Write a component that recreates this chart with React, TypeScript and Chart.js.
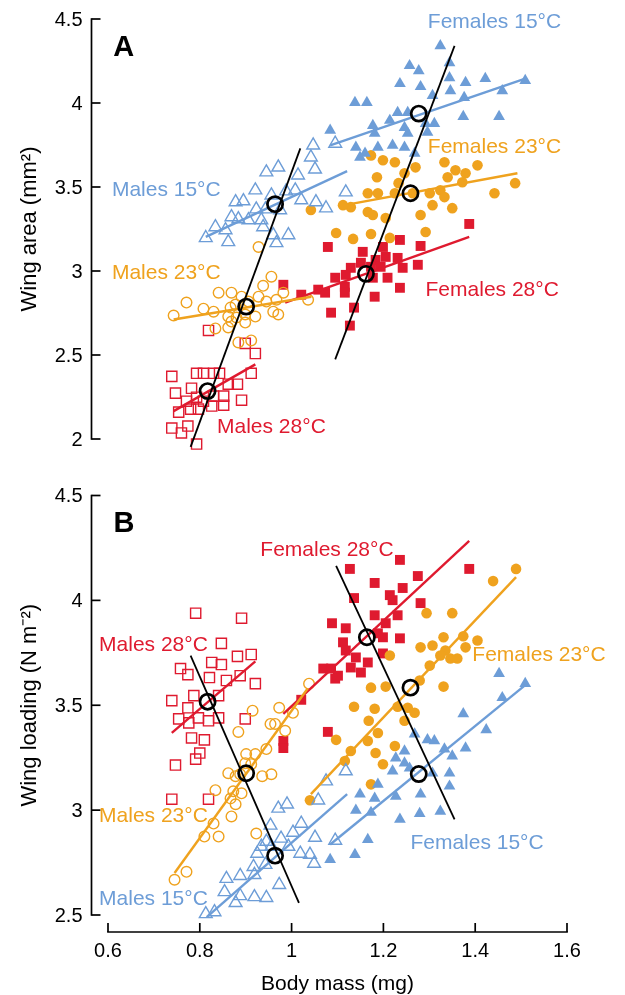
import React, { useEffect, useRef } from "react";
import { Chart, registerables } from "chart.js";
Chart.register(...registerables);

type P = [number, number];

// ---------- colours ----------
const BLUE = "#6d9dd7";
const ORANGE = "#efa21e";
const RED = "#df1a2f";

// ---------- axes ----------
const xTicks = [0.6, 0.8, 1.0, 1.2, 1.4, 1.6];
const xTickLabels = ["0.6", "0.8", "1", "1.2", "1.4", "1.6"];
const yTicksA = [2, 2.5, 3, 3.5, 4, 4.5];
const yTickLabelsA = ["2", "2.5", "3", "3.5", "4", "4.5"];
const yTicksB = [2.5, 3, 3.5, 4, 4.5];
const yTickLabelsB = ["2.5", "3", "3.5", "4", "4.5"];
const xTitle = "Body mass (mg)";
const yTitleA = "Wing area (mm²)";
const yTitleB = "Wing loading (N m⁻²)";

// ---------- panel A: wing area ----------
const areaM15: P[] = [[1.047,3.748],[1.042,3.677],[1.095,3.759],[0.971,3.617],[0.945,3.588],[1.014,3.570],[1.051,3.605],[0.921,3.481],[0.878,3.410],[0.895,3.416],[0.956,3.451],[0.988,3.475],[1.008,3.481],[1.021,3.422],[1.053,3.410],[1.118,3.469],[1.075,3.374],[0.923,3.368],[0.943,3.368],[0.869,3.321],[0.884,3.309],[0.906,3.303],[0.934,3.303],[0.975,3.363],[0.834,3.262],[0.856,3.244],[0.938,3.262],[0.813,3.197],[0.862,3.173],[0.960,3.214],[0.993,3.214],[0.967,3.167]];
const areaM23: P[] = [[0.928,3.143],[0.956,2.966],[0.938,2.912],[0.841,2.871],[0.869,2.871],[0.891,2.847],[0.928,2.847],[0.771,2.812],[0.808,2.776],[0.830,2.758],[0.867,2.782],[0.878,2.800],[0.906,2.818],[0.945,2.818],[0.967,2.829],[0.982,2.871],[1.036,2.829],[0.743,2.735],[0.862,2.729],[0.880,2.723],[0.899,2.741],[0.921,2.729],[0.960,2.758],[0.971,2.741],[0.869,2.699],[0.899,2.693],[0.834,2.658],[0.862,2.664],[0.884,2.575],[0.912,2.587]];
const areaM28: P[] = [[0.819,2.646],[0.899,2.569],[0.921,2.509],[0.739,2.373],[0.793,2.391],[0.808,2.391],[0.830,2.391],[0.843,2.391],[0.912,2.391],[0.782,2.302],[0.862,2.326],[0.882,2.326],[0.747,2.273],[0.793,2.249],[0.830,2.255],[0.852,2.255],[0.771,2.225],[0.808,2.225],[0.826,2.196],[0.852,2.201],[0.891,2.231],[0.754,2.160],[0.780,2.178],[0.797,2.178],[0.739,2.065],[0.774,2.077],[0.760,2.036],[0.793,1.970]];
const areaF15: P[] = [[1.324,4.340],[1.257,4.222],[1.277,4.192],[1.344,4.239],[1.236,4.115],[1.281,4.097],[1.344,4.150],[1.379,4.121],[1.422,4.145],[1.459,4.073],[1.509,4.133],[1.307,4.044],[1.346,4.073],[1.376,4.032],[1.138,4.002],[1.164,4.002],[1.231,3.943],[1.214,3.896],[1.253,3.943],[1.374,3.919],[1.452,3.919],[1.177,3.866],[1.181,3.819],[1.246,3.854],[1.253,3.819],[1.292,3.878],[1.311,3.878],[1.084,3.837],[1.140,3.736],[1.188,3.736],[1.220,3.748],[1.246,3.736],[1.268,3.700],[1.149,3.677],[1.160,3.700],[1.296,3.825]];
const areaF23: P[] = [[1.173,3.688],[1.199,3.659],[1.225,3.647],[1.333,3.647],[1.405,3.629],[1.186,3.558],[1.246,3.582],[1.270,3.617],[1.357,3.600],[1.379,3.582],[1.340,3.558],[1.233,3.523],[1.166,3.463],[1.188,3.463],[1.225,3.463],[1.301,3.463],[1.324,3.481],[1.333,3.440],[1.442,3.463],[1.487,3.523],[1.372,3.528],[1.129,3.380],[1.042,3.363],[1.112,3.392],[1.166,3.351],[1.177,3.333],[1.205,3.315],[1.281,3.333],[1.307,3.392],[1.350,3.374],[1.097,3.226],[1.134,3.191],[1.173,3.220],[1.214,3.197],[1.292,3.232],[1.264,3.463]];
const areaF28: P[] = [[1.387,3.280],[1.236,3.185],[1.281,3.149],[1.079,3.143],[1.155,3.114],[1.199,3.143],[1.183,3.066],[1.205,3.084],[1.231,3.078],[1.129,3.019],[1.151,3.049],[1.173,3.025],[1.194,3.025],[1.242,3.019],[1.275,3.037],[1.095,2.960],[1.118,2.977],[1.177,2.960],[1.209,2.960],[1.058,2.889],[1.116,2.906],[1.073,2.871],[1.236,2.900],[1.116,2.871],[1.181,2.847],[1.086,2.752],[1.136,2.782],[1.127,2.675],[0.982,2.918],[1.021,2.859]];

const areaFitM15: P[] = [[0.813,3.203],[1.121,3.594]];
const areaFitM23: P[] = [[0.743,2.711],[1.043,2.847]];
const areaFitM28: P[] = [[0.743,2.166],[0.921,2.444]];
const areaFitF15: P[] = [[1.084,3.748],[1.509,4.145]];
const areaFitF23: P[] = [[1.127,3.398],[1.492,3.582]];
const areaFitF28: P[] = [[0.986,2.812],[1.387,3.203]];
const areaMaleMeans: P[] = [[0.817,2.285],[0.901,2.788],[0.964,3.398]];
const areaFemaleMeans: P[] = [[1.162,2.983],[1.259,3.463],[1.277,3.937]];
const areaMaleTrend: P[] = [[0.780,1.953],[1.019,3.730]];
const areaFemaleTrend: P[] = [[1.095,2.474],[1.355,4.340]];

// ---------- panel B: wing loading ----------
const loadM15: P[] = [[1.118,3.186],[1.075,3.138],[1.058,3.047],[0.990,3.028],[0.971,3.008],[0.954,2.927],[1.021,2.936],[1.003,2.893],[1.051,2.869],[1.095,2.855],[0.945,2.850],[0.977,2.865],[0.934,2.826],[0.956,2.826],[0.993,2.826],[1.019,2.793],[1.040,2.788],[1.049,2.745],[0.925,2.793],[0.917,2.730],[0.943,2.740],[0.858,2.673],[0.888,2.687],[0.919,2.692],[0.973,2.644],[0.854,2.610],[0.888,2.591],[0.919,2.586],[0.945,2.582],[0.878,2.558],[0.832,2.514],[0.813,2.505]];
const loadM23: P[] = [[1.038,3.603],[0.915,3.474],[0.973,3.488],[1.003,3.464],[0.954,3.411],[0.964,3.411],[0.986,3.378],[0.884,3.373],[0.945,3.291],[0.901,3.267],[0.921,3.267],[0.899,3.224],[0.912,3.219],[0.862,3.176],[0.878,3.162],[0.888,3.171],[0.936,3.162],[0.956,3.171],[0.834,3.095],[0.873,3.090],[0.891,3.080],[0.867,3.056],[0.878,3.028],[0.869,2.970],[0.830,2.936],[0.810,2.874],[0.841,2.874],[0.923,2.888],[0.771,2.706],[0.745,2.668]];
const loadM28: P[] = [[0.791,3.939],[0.891,3.915],[0.847,3.795],[0.882,3.733],[0.912,3.742],[0.758,3.675],[0.774,3.646],[0.826,3.704],[0.847,3.694],[0.821,3.632],[0.858,3.618],[0.888,3.641],[0.921,3.603],[0.739,3.522],[0.787,3.546],[0.841,3.546],[0.774,3.488],[0.754,3.435],[0.776,3.416],[0.797,3.440],[0.819,3.426],[0.841,3.440],[0.899,3.435],[0.782,3.344],[0.810,3.335],[0.800,3.272],[0.791,3.243],[0.747,3.215],[0.739,3.052],[0.819,3.052]];
const loadF15: P[] = [[1.452,3.651],[1.509,3.603],[1.374,3.459],[1.459,3.536],[1.424,3.383],[1.379,3.296],[1.268,3.363],[1.296,3.335],[1.311,3.330],[1.333,3.291],[1.350,3.258],[1.246,3.282],[1.227,3.248],[1.246,3.224],[1.257,3.200],[1.220,3.186],[1.307,3.176],[1.344,3.176],[1.344,3.114],[1.188,3.123],[1.149,3.076],[1.181,3.056],[1.227,3.066],[1.281,3.076],[1.140,2.999],[1.173,2.989],[1.236,2.956],[1.279,2.984],[1.324,2.994],[1.166,2.860],[1.138,2.788],[1.084,2.764]];
const loadF23: P[] = [[1.489,4.150],[1.439,4.092],[1.294,3.939],[1.350,3.939],[1.331,3.824],[1.374,3.829],[1.405,3.809],[1.281,3.776],[1.307,3.785],[1.335,3.761],[1.379,3.776],[1.324,3.737],[1.346,3.723],[1.361,3.723],[1.214,3.737],[1.301,3.689],[1.173,3.584],[1.205,3.589],[1.279,3.618],[1.331,3.589],[1.136,3.493],[1.181,3.483],[1.231,3.493],[1.253,3.488],[1.268,3.464],[1.168,3.426],[1.246,3.426],[1.097,3.335],[1.188,3.368],[1.166,3.330],[1.129,3.282],[1.116,3.234],[1.183,3.272],[1.225,3.306],[1.199,3.219],[1.173,3.123],[1.040,3.047]];
const loadF28: P[] = [[1.236,4.193],[1.127,4.150],[1.387,4.150],[1.181,4.083],[1.275,4.116],[1.242,4.059],[1.136,4.011],[1.214,4.025],[1.220,4.001],[1.281,3.987],[1.181,3.929],[1.231,3.929],[1.088,3.891],[1.118,3.867],[1.205,3.891],[1.188,3.843],[1.199,3.824],[1.236,3.819],[1.112,3.800],[1.118,3.761],[1.140,3.728],[1.166,3.704],[1.199,3.747],[1.069,3.675],[1.086,3.675],[1.129,3.680],[1.151,3.656],[1.101,3.641],[1.095,3.627],[1.021,3.526],[1.079,3.373],[0.982,3.330],[0.982,3.296]];

const loadFitM15: P[] = [[0.815,2.490],[1.121,3.076]];
const loadFitM23: P[] = [[0.745,2.700],[1.035,3.580]];
const loadFitM28: P[] = [[0.739,3.368],[0.921,3.709]];
const loadFitF15: P[] = [[1.084,2.836],[1.513,3.603]];
const loadFitF23: P[] = [[1.042,3.076],[1.489,4.111]];
const loadFitF28: P[] = [[0.982,3.459],[1.387,4.284]];
const loadMaleMeans: P[] = [[0.817,3.517],[0.901,3.176],[0.964,2.783]];
const loadFemaleMeans: P[] = [[1.164,3.824],[1.259,3.584],[1.277,3.172]];
const loadMaleTrend: P[] = [[0.780,3.737],[1.016,2.558]];
const loadFemaleTrend: P[] = [[1.097,4.164],[1.355,2.956]];

// ---------- text labels ----------
const groupNames = ["Males 15°C", "Males 23°C", "Males 28°C", "Females 15°C", "Females 23°C", "Females 28°C"];
const panelLetters = ["A", "B"];

// label anchor positions (data units), kept apart from the data above
const labelPosA: P[] = [[0.727,3.481],[0.727,2.989],[0.956,2.071],[1.442,4.482],[1.442,3.736],[1.437,2.883]];
const labelPosB: P[] = [[0.699,2.577],[0.699,2.970],[0.699,3.785],[1.404,2.843],[1.539,3.737],[1.077,4.241]];
const letterPos: P[] = [[0.634,4.33],[0.635,4.366]];

// ---------- layout (pixels) ----------
const W = 625, H = 995;
const AREA_TOP = 18, AREA_BOTTOM = 932, AREA_LEFT = 108, AREA_RIGHT = 567;
const PANEL_A = { vTop: 4.5, vBot: 2.0, pTop: 19, pBot: 439 };
const PANEL_B = { vTop: 4.5, vBot: 2.5, pTop: 495.5, pBot: 915 };
const FONT = '"Liberation Sans", Arial, Helvetica, sans-serif';

function yRange(p: { vTop: number; vBot: number; pTop: number; pBot: number }) {
  const per = (p.vTop - p.vBot) / (p.pBot - p.pTop);
  return { max: p.vTop + (p.pTop - AREA_TOP) * per, min: p.vBot - (AREA_BOTTOM - p.pBot) * per };
}

const COLORS = [BLUE, ORANGE, RED, BLUE, ORANGE, RED];
const STYLES = ["triangle", "circle", "rect", "triangle", "circle", "rect"];

function pointsDs(data: P[], axis: string, idx: number) {
  const filled = idx >= 3;
  const style = STYLES[idx];
  let r = 5.3;
  if (style === "triangle") r = filled ? 6.8 : 7.4;
  if (style === "rect") r = filled ? 7.0 : 7.2;
  return {
    type: "scatter" as const,
    data: data.map(([x, y]) => ({ x, y })),
    yAxisID: axis,
    pointStyle: style,
    pointRadius: r,
    backgroundColor: filled ? COLORS[idx] : "rgba(0,0,0,0)",
    borderColor: COLORS[idx],
    borderWidth: filled ? 0 : 1.4,
    showLine: false,
    order: 3,
  };
}

function lineDs(data: P[], axis: string, color: string, width: number, order: number) {
  return {
    type: "scatter" as const,
    data: data.map(([x, y]) => ({ x, y })),
    yAxisID: axis,
    showLine: true,
    borderColor: color,
    borderWidth: width,
    pointRadius: 0,
    fill: false,
    order,
  };
}

function meansDs(data: P[], axis: string) {
  return {
    type: "scatter" as const,
    data: data.map(([x, y]) => ({ x, y })),
    yAxisID: axis,
    pointStyle: "circle",
    pointRadius: 7.6,
    backgroundColor: "rgba(0,0,0,0)",
    borderColor: "#000",
    borderWidth: 2.7,
    order: 0,
  };
}

const areaPts = [areaM15, areaM23, areaM28, areaF15, areaF23, areaF28];
const areaFits = [areaFitM15, areaFitM23, areaFitM28, areaFitF15, areaFitF23, areaFitF28];
const loadPts = [loadM15, loadM23, loadM28, loadF15, loadF23, loadF28];
const loadFits = [loadFitM15, loadFitM23, loadFitM28, loadFitF15, loadFitF23, loadFitF28];

const axesPlugin = {
  id: "customAxes",
  afterDatasetsDraw(chart: any) {
    const ctx: CanvasRenderingContext2D = chart.ctx;
    const xs = chart.scales.x;
    const ys = [chart.scales.yA, chart.scales.yB];
    const ticks = [yTicksA, yTicksB];
    const tickLabels = [yTickLabelsA, yTickLabelsB];
    const titles = [yTitleA, yTitleB];
    const labelPos = [labelPosA, labelPosB];
    const axisX = xs.getPixelForValue(xTicks[0]) - 16.5;
    ctx.save();
    ctx.strokeStyle = "#000";
    ctx.fillStyle = "#000";
    ctx.lineWidth = 1.7;
    ctx.lineCap = "butt";

    for (let p = 0; p < 2; p++) {
      const y = ys[p];
      const t = ticks[p];
      const top = y.getPixelForValue(t[t.length - 1]);
      const bot = y.getPixelForValue(t[0]);
      ctx.beginPath();
      ctx.moveTo(axisX, top - 0.85);
      ctx.lineTo(axisX, bot + 0.85);
      ctx.stroke();
      ctx.font = `20px ${FONT}`;
      ctx.textAlign = "right";
      ctx.textBaseline = "middle";
      t.forEach((v, i) => {
        const py = y.getPixelForValue(v);
        ctx.beginPath();
        ctx.moveTo(axisX, py);
        ctx.lineTo(axisX + 9, py);
        ctx.stroke();
        ctx.fillText(tickLabels[p][i], axisX - 9, py + 1);
      });
      // axis title
      ctx.save();
      ctx.translate(30, (top + bot) / 2);
      ctx.rotate(-Math.PI / 2);
      ctx.textAlign = "center";
      ctx.textBaseline = "middle";
      ctx.font = `22px ${FONT}`;
      ctx.fillText(titles[p], 0, 0);
      ctx.restore();

      // group labels
      ctx.font = `21px ${FONT}`;
      ctx.textAlign = "center";
      ctx.textBaseline = "middle";
      groupNames.forEach((name, i) => {
        const [lx, ly] = labelPos[p][i];
        ctx.fillStyle = COLORS[i];
        ctx.fillText(name, xs.getPixelForValue(lx), y.getPixelForValue(ly));
      });
      // panel letter
      ctx.fillStyle = "#000";
      ctx.font = `bold 29px ${FONT}`;
      ctx.fillText(panelLetters[p], xs.getPixelForValue(letterPos[p][0]), y.getPixelForValue(letterPos[p][1]));
    }

    // x axis
    const axY = AREA_BOTTOM;
    const x0 = xs.getPixelForValue(xTicks[0]);
    const x1 = xs.getPixelForValue(xTicks[xTicks.length - 1]);
    ctx.lineWidth = 1.7;
    ctx.beginPath();
    ctx.moveTo(x0 - 0.85, axY);
    ctx.lineTo(x1 + 0.85, axY);
    ctx.stroke();
    ctx.font = `20px ${FONT}`;
    ctx.textAlign = "center";
    ctx.textBaseline = "middle";
    xTicks.forEach((v, i) => {
      const px = xs.getPixelForValue(v);
      ctx.beginPath();
      ctx.moveTo(px, axY);
      ctx.lineTo(px, axY - 9);
      ctx.stroke();
      ctx.fillText(xTickLabels[i], px, axY + 19);
    });
    ctx.font = `21px ${FONT}`;
    ctx.fillText(xTitle, (x0 + x1) / 2, axY + 52);
    ctx.restore();
  },
};

export default function App() {
  const ref = useRef<HTMLCanvasElement>(null);
  useEffect(() => {
    const datasets: any[] = [];
    // black trend lines & means
    datasets.push(meansDs(areaMaleMeans, "yA"), meansDs(areaFemaleMeans, "yA"));
    datasets.push(meansDs(loadMaleMeans, "yB"), meansDs(loadFemaleMeans, "yB"));
    datasets.push(lineDs(areaMaleTrend, "yA", "#000", 1.8, 1), lineDs(areaFemaleTrend, "yA", "#000", 1.8, 1));
    datasets.push(lineDs(loadMaleTrend, "yB", "#000", 1.8, 1), lineDs(loadFemaleTrend, "yB", "#000", 1.8, 1));
    areaFits.forEach((f, i) => datasets.push(lineDs(f, "yA", COLORS[i], 2.4, 2)));
    loadFits.forEach((f, i) => datasets.push(lineDs(f, "yB", COLORS[i], 2.4, 2)));
    areaPts.forEach((d, i) => datasets.push(pointsDs(d, "yA", i)));
    loadPts.forEach((d, i) => datasets.push(pointsDs(d, "yB", i)));

    const ra = yRange(PANEL_A);
    const rb = yRange(PANEL_B);
    const chart = new Chart(ref.current as HTMLCanvasElement, {
      type: "scatter",
      data: { datasets },
      options: {
        responsive: false,
        maintainAspectRatio: false,
        devicePixelRatio: 1,
        animation: false,
        layout: { padding: { left: AREA_LEFT, right: W - AREA_RIGHT, top: AREA_TOP, bottom: H - AREA_BOTTOM } },
        plugins: { legend: { display: false }, tooltip: { enabled: false } },
        scales: {
          x: { type: "linear", min: xTicks[0], max: xTicks[xTicks.length - 1], display: false },
          yA: { type: "linear", position: "left", min: ra.min, max: ra.max, display: false },
          yB: { type: "linear", position: "left", min: rb.min, max: rb.max, display: false },
        },
      } as any,
      plugins: [axesPlugin],
    });
    return () => chart.destroy();
  }, []);
  return (
    <div style={{ position: "absolute", left: 0, top: 0, width: W, height: H, background: "#fff" }}>
      <canvas ref={ref} width={W} height={H} style={{ display: "block", width: W, height: H }} />
    </div>
  );
}
